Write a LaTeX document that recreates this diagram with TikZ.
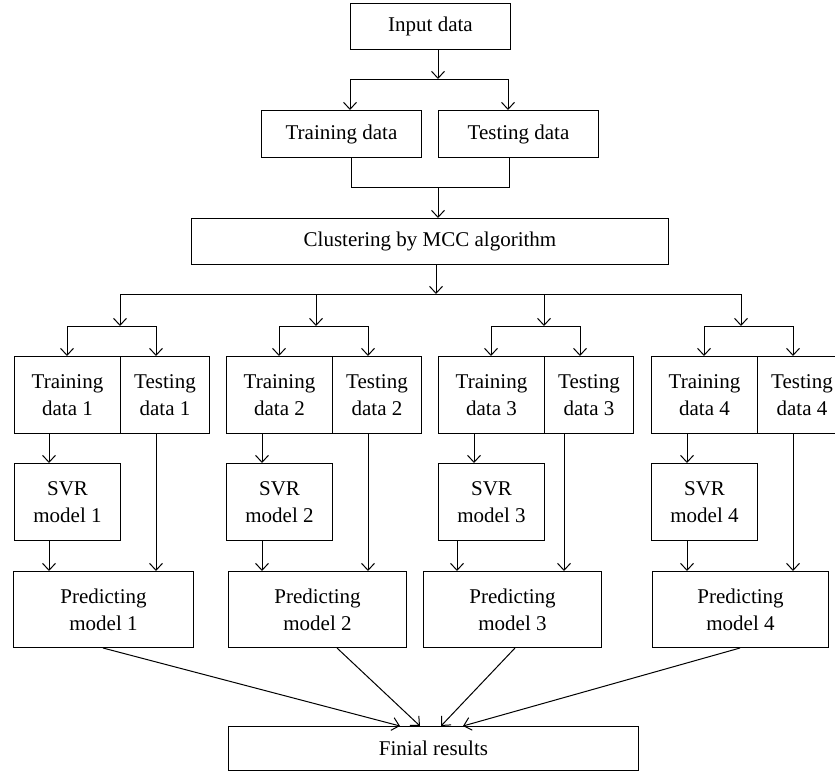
\documentclass[tikz,border=0pt]{standalone}
\usepackage{fontspec}
\setmainfont{Liberation Serif}
\usetikzlibrary{arrows.meta}
\begin{document}
\begin{tikzpicture}[x=1pt,y=-1pt,
  line width=1pt,
  box/.style={draw, inner sep=0pt, anchor=north west, align=center,
    font=\fontsize{21}{27}\selectfont},
  arr/.style={-{Straight Barb[length=7pt,width=13pt]}}]
\useasboundingbox (0,0) rectangle (835,771);
\clip (0,0) rectangle (835,771);
% top part
\node[box, minimum width=160pt, minimum height=46pt] (in) at (350,3) {Input data};
\node[box, minimum width=160pt, minimum height=47pt] (trn) at (261,110) {Training data};
\node[box, minimum width=160pt, minimum height=47pt] (tst) at (438,110) {Testing data};
\node[box, minimum width=477pt, minimum height=46pt] (clu) at (191,218) {Clustering by MCC algorithm};
% groups
\node[box, minimum width=106pt, minimum height=77pt] (tr1) at (14,356) {Training\\data 1};
\node[box, minimum width=89pt, minimum height=77pt] (te1) at (120,356) {Testing\\data 1};
\node[box, minimum width=106pt, minimum height=77pt] (sv1) at (14,463) {SVR\\model 1};
\node[box, minimum width=106pt, minimum height=77pt] (tr2) at (226,356) {Training\\data 2};
\node[box, minimum width=89pt, minimum height=77pt] (te2) at (332,356) {Testing\\data 2};
\node[box, minimum width=106pt, minimum height=77pt] (sv2) at (226,463) {SVR\\model 2};
\node[box, minimum width=106pt, minimum height=77pt] (tr3) at (438,356) {Training\\data 3};
\node[box, minimum width=89pt, minimum height=77pt] (te3) at (544,356) {Testing\\data 3};
\node[box, minimum width=106pt, minimum height=77pt] (sv3) at (438,463) {SVR\\model 3};
\node[box, minimum width=106pt, minimum height=77pt] (tr4) at (651,356) {Training\\data 4};
\node[box, minimum width=89pt, minimum height=77pt] (te4) at (757,356) {Testing\\data 4};
\node[box, minimum width=106pt, minimum height=77pt] (sv4) at (651,463) {SVR\\model 4};
\node[box, minimum width=180pt, minimum height=76pt] (pr1) at (13,571) {Predicting\\model 1};
\node[box, minimum width=178pt, minimum height=76pt] (pr2) at (228,571) {Predicting\\model 2};
\node[box, minimum width=178pt, minimum height=76pt] (pr3) at (423,571) {Predicting\\model 3};
\node[box, minimum width=176pt, minimum height=76pt] (pr4) at (652,571) {Predicting\\model 4};
\node[box, minimum width=410pt, minimum height=44pt] (fin) at (228,726) {Finial results};
% connectors top
\coordinate (j0) at (438,79);
\coordinate (aL) at (350,79);
\coordinate (aR) at (508,79);
\draw[arr] (in.south -| j0) -- (j0);
\draw (aL) -- (aR);
\draw[arr] (aL) -- (aL |- trn.north);
\draw[arr] (aR) -- (aR |- tst.north);
\coordinate (bL) at (351,187);
\coordinate (bR) at (509,187);
\coordinate (bM) at (438,187);
\draw (bL |- trn.south) -- (bL) -- (bR) -- (bR |- tst.south);
\draw[arr] (bM) -- (bM |- clu.north);
\coordinate (c0) at (436,294);
\coordinate (cL) at (120,294);
\coordinate (cR) at (741,294);
\draw[arr] (c0 |- clu.south) -- (c0);
\draw (cL) -- (cR);
\coordinate (d1) at (120,326);
\coordinate (d2) at (316,326);
\coordinate (d3) at (544,326);
\coordinate (d4) at (741,326);
\foreach \i in {1,2,3,4} {\draw[arr] (d\i |- cL) -- (d\i);}
% sub-splits
\coordinate (e1L) at (67,326);  \coordinate (e1R) at (156,326);
\coordinate (e2L) at (279,326); \coordinate (e2R) at (368,326);
\coordinate (e3L) at (491,326); \coordinate (e3R) at (580,326);
\coordinate (e4L) at (704,326); \coordinate (e4R) at (793,326);
\foreach \i in {1,2,3,4} {
  \draw (e\i L) -- (e\i R);
  \draw[arr] (e\i L) -- (e\i L |- tr\i.north);
  \draw[arr] (e\i R) -- (e\i R |- te\i.north);
}
% training -> svr
\coordinate (f1) at (49,0); \coordinate (f2) at (262,0);
\coordinate (f3) at (474,0); \coordinate (f4) at (687,0);
\foreach \i in {1,2,3,4} {\draw[arr] (f\i |- tr\i.south) -- (f\i |- sv\i.north);}
% svr -> predicting
\coordinate (g1) at (49,0); \coordinate (g2) at (262,0);
\coordinate (g3) at (457,0); \coordinate (g4) at (687,0);
\foreach \i in {1,2,3,4} {\draw[arr] (g\i |- sv\i.south) -- (g\i |- pr\i.north);}
% testing -> predicting
\coordinate (h1) at (156,0); \coordinate (h2) at (368,0);
\coordinate (h3) at (564,0); \coordinate (h4) at (793,0);
\foreach \i in {1,2,3,4} {\draw[arr] (h\i |- te\i.south) -- (h\i |- pr\i.north);}
% predicting -> final
\coordinate (k1) at (103,0); \coordinate (m1) at (400,0);
\coordinate (k2) at (337,0); \coordinate (m2) at (420,0);
\coordinate (k3) at (515,0); \coordinate (m3) at (441,0);
\coordinate (k4) at (740,0); \coordinate (m4) at (463,0);
\foreach \i in {1,2,3,4} {\draw[arr] (k\i |- pr\i.south) -- (m\i |- fin.north);}
\end{tikzpicture}
\end{document}
